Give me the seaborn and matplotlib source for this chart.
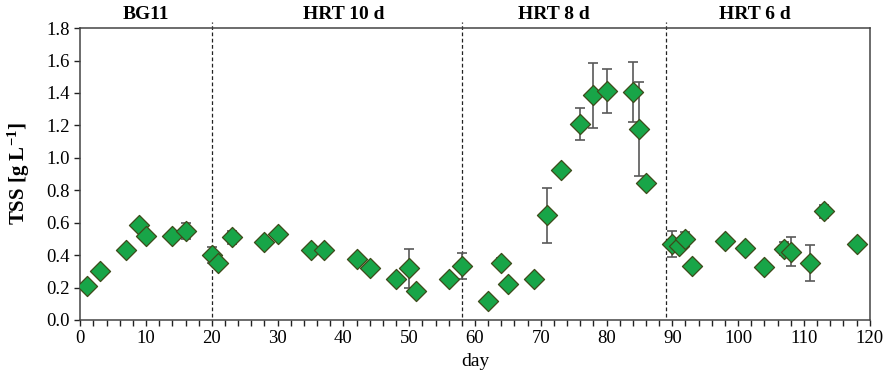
import matplotlib
matplotlib.use("Agg")
import matplotlib.pyplot as plt
from matplotlib.ticker import MultipleLocator, FormatStrFormatter
import seaborn as sns
import pandas as pd

days = [1, 3, 7, 9, 10, 14, 16, 20, 21, 23, 28, 30, 35, 37, 42, 44, 48, 50, 51, 56,
        58, 62, 64, 65, 69, 71, 73, 76, 78, 80, 84, 85, 86,
        90, 91, 92, 93, 98, 101, 104, 107, 108, 111, 113, 118]
tss = [0.21, 0.30, 0.43, 0.585, 0.52, 0.52, 0.55, 0.40, 0.35, 0.51, 0.48, 0.53, 0.43, 0.43,
       0.375, 0.32, 0.25, 0.32, 0.18, 0.25,
       0.33, 0.12, 0.35, 0.22, 0.25, 0.645, 0.925, 1.21, 1.385, 1.41, 1.405, 1.18, 0.845,
       0.47, 0.455, 0.50, 0.335, 0.49, 0.445, 0.325, 0.44, 0.42, 0.35, 0.67, 0.47]
err = [0, 0, 0, 0, 0, 0, 0.05, 0.05, 0, 0.04, 0, 0, 0, 0, 0, 0, 0, 0.12, 0, 0,
       0.08, 0, 0.03, 0, 0, 0.17, 0, 0.10, 0.20, 0.135, 0.185, 0.29, 0,
       0.08, 0.03, 0.04, 0, 0, 0, 0, 0.04, 0.09, 0.11, 0.04, 0]

phase_bounds = [20, 58, 89]
phase_labels = ["BG11", "HRT 10 d", "HRT 8 d", "HRT 6 d"]
phase_label_x = [10, 40, 72, 102.5]

df = pd.DataFrame({"day": days, "TSS": tss, "err": err})

sns.set_theme(style="ticks")
plt.rcParams["font.family"] = ["Liberation Serif", "DejaVu Serif"]
plt.rcParams["text.color"] = "black"
plt.rcParams["axes.labelcolor"] = "black"
plt.rcParams["mathtext.fontset"] = "custom"
plt.rcParams["mathtext.rm"] = "Liberation Serif"
plt.rcParams["mathtext.bf"] = "Liberation Serif:bold"
plt.rcParams["mathtext.it"] = "Liberation Serif:italic"

fig = plt.figure(figsize=(8.85, 3.8), dpi=100)
ax = fig.add_axes([0.0907, 0.158, 0.892, 0.768])

eb = df[df["err"] > 0]
ax.errorbar(eb["day"], eb["TSS"], yerr=eb["err"], fmt="none", ecolor="#595959",
            elinewidth=1.2, capsize=3.5, capthick=1.2, zorder=2)
sns.scatterplot(data=df, x="day", y="TSS", marker="D", s=105, color="#18a548",
                edgecolor="#3d4a1a", linewidth=0.9, ax=ax, zorder=3, legend=False)

for b in phase_bounds:
    ax.plot([b, b], [0.02, 1.835], ls=(0, (3, 2)), color="#222222", lw=0.9,
            clip_on=False, zorder=1)

for lx, lab in zip(phase_label_x, phase_labels):
    ax.text(lx, 1.83, lab, ha="center", va="bottom", fontsize=14, fontweight="bold",
            color="black")

ax.set_xlim(0, 120)
ax.set_ylim(0, 1.8)
ax.xaxis.set_major_locator(MultipleLocator(10))
ax.xaxis.set_minor_locator(MultipleLocator(2))
ax.yaxis.set_major_locator(MultipleLocator(0.2))
ax.yaxis.set_major_formatter(FormatStrFormatter("%.1f"))
ax.tick_params(axis="both", which="major", direction="out", length=4, width=1,
               labelsize=13.5, colors="#222222", labelcolor="black")
ax.tick_params(axis="x", which="minor", direction="out", length=4, width=1, colors="#222222")
for sp in ax.spines.values():
    sp.set_color("#444444")
    sp.set_linewidth(1.1)

ax.set_xlabel("day", fontsize=14, labelpad=4, color="black")
ax.set_ylabel("TSS [g L$^{\\mathbf{-1}}$]", fontsize=15, fontweight="bold", labelpad=10,
              color="black")

fig.savefig("out.png", dpi=100)
